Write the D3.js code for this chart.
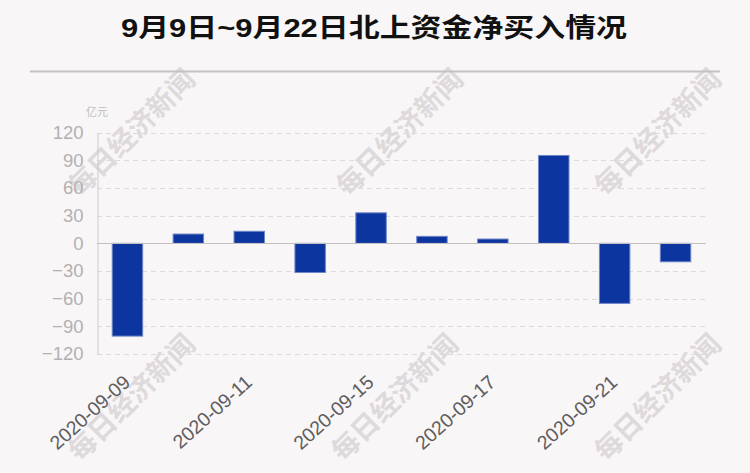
<!DOCTYPE html>
<html>
<head>
<meta charset="utf-8">
<script src="https://cdn.jsdelivr.net/npm/d3@7/dist/d3.min.js"></script>
<style>
  html, body { margin: 0; padding: 0; background: #f9f6f7; }
  svg { display: block; }
</style>
</head>
<body>
<script>
const dates = ["2020-09-09","2020-09-10","2020-09-11","2020-09-14","2020-09-15",
               "2020-09-16","2020-09-17","2020-09-18","2020-09-21","2020-09-22"];
const netBuy = [-100.6, 10.1, 13.1, -31.6, 33.1, 7.6, 4.7, 95.3, -65.1, -20.0];
const yTicks = [-120, -90, -60, -30, 0, 30, 60, 90, 120];
const shownLabels = ["2020-09-09","2020-09-11","2020-09-15","2020-09-17","2020-09-21"];
const titleText = "9月9日~9月22日北上资金净买入情况";
const unitText = "亿元";
const watermarkText = "每日经济新闻";

const W = 750, H = 473;
const svg = d3.select("body").append("svg").attr("width", W).attr("height", H);
svg.append("rect").attr("width", W).attr("height", H).attr("fill", "#f9f6f7");

// watermark
const wmCenters = [[130,131],[398,131],[656,131],[130,396],[393,396],[656,396]];
svg.append("g").selectAll("text").data(wmCenters).join("text")
  .attr("transform", d => `translate(${d[0]},${d[1]}) rotate(-45)`)
  .attr("text-anchor", "middle").attr("dominant-baseline", "central")
  .attr("font-family", "'Noto Sans CJK SC', sans-serif")
  .attr("font-weight", "bold").attr("font-size", 27.5)
  .attr("fill", "#dedadc")
  .text(watermarkText);

// title
svg.append("text")
  .attr("x", 121).attr("y", 37)
  .attr("textLength", 506).attr("lengthAdjust", "spacingAndGlyphs")
  .attr("font-family", "'Liberation Sans', 'Noto Sans CJK SC', sans-serif")
  .attr("font-weight", "bold").attr("font-size", 26)
  .attr("fill", "#111")
  .text(titleText);

svg.append("line").attr("x1", 30).attr("x2", 720).attr("y1", 71.5).attr("y2", 71.5)
  .attr("stroke", "#c4c1c3").attr("stroke-width", 2);

const x = d3.scaleBand().domain(dates).range([97, 706]).paddingInner(0.5).paddingOuter(0.25);
const y = d3.scaleLinear().domain([-120, 120]).range([354, 132.7]);

// gridlines
svg.append("g").selectAll("line").data(yTicks.filter(v => v !== 0)).join("line")
  .attr("x1", 97).attr("x2", 706)
  .attr("y1", d => Math.round(y(d)) + 0.5).attr("y2", d => Math.round(y(d)) + 0.5)
  .attr("stroke", "#dedadc").attr("stroke-dasharray", "5,4");

// y axis
const yAxis = d3.axisLeft(y).tickValues(yTicks).tickSize(0).tickPadding(14);
const gy = svg.append("g").attr("transform", "translate(97.5,0)").call(yAxis);
gy.select(".domain").attr("stroke", "#cfcbcd");
gy.selectAll("text").attr("font-family", "'Liberation Sans', Arial, sans-serif")
  .attr("font-size", 18.5).attr("fill", "#b3b0b2");

svg.append("text").attr("x", 97).attr("y", 116)
  .attr("text-anchor", "middle")
  .attr("font-family", "'Noto Sans CJK SC', sans-serif").attr("font-size", 11)
  .attr("fill", "#c2bfc1").text(unitText);

// bars
svg.append("g").selectAll("rect").data(dates).join("rect")
  .attr("x", d => x(d))
  .attr("width", x.bandwidth())
  .attr("y", (d, i) => y(Math.max(0, netBuy[i])))
  .attr("height", (d, i) => Math.abs(y(netBuy[i]) - y(0)))
  .attr("fill", "#0d35a0")
  .attr("stroke", "#6f86c6").attr("stroke-width", 1);

// zero line
svg.append("line").attr("x1", 97).attr("x2", 706)
  .attr("y1", Math.round(y(0)) + 0.5).attr("y2", Math.round(y(0)) + 0.5)
  .attr("stroke", "#c3bfc1").attr("stroke-width", 1.2);

// x labels
const xAxis = d3.axisBottom(x).tickValues(shownLabels).tickSize(0).tickPadding(0);
const gx = svg.append("g").attr("transform", "translate(0,354)").call(xAxis);
gx.select(".domain").remove();
gx.selectAll("text")
  .attr("font-family", "'Liberation Sans', Arial, sans-serif")
  .attr("font-size", 19.5).attr("fill", "#5f5d5e")
  .attr("text-anchor", "end").attr("dy", null).attr("y", null)
  .attr("transform", "translate(4,30) rotate(-42)");
</script>
</body>
</html>
